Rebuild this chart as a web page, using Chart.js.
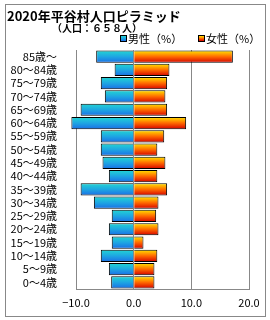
<!DOCTYPE html>
<html>
<head>
<meta charset="utf-8">
<script src="https://cdn.jsdelivr.net/npm/chart.js@4/dist/chart.umd.min.js"></script>
<style>
  body { margin: 0; background: #fff; font-family: "Noto Sans CJK JP", sans-serif; }
  .frame { position: absolute; left: 5px; top: 4px; width: 259px; height: 311px; border: 1px solid #888; }
  .title { position: absolute; left: 7px; top: 6px; font-size: 13px; font-weight: bold; color: #000; white-space: nowrap; }
  .sub { position: absolute; left: 52px; top: 20px; font-size: 10px; font-weight: bold; color: #000; white-space: nowrap; }
  canvas { position: absolute; left: 0; top: 0; }
  .legend { position: absolute; top: 31px; height: 14px; line-height: 14px; font-size: 11px; color: #000; white-space: nowrap; }
  .legend i { position: absolute; left: 0; top: 4px; width: 5px; height: 5px; border: 1px solid #000; }
  .legend span { position: absolute; left: 8px; top: 0; }
</style>
</head>
<body>
<div class="frame"></div>
<canvas id="pyramid" width="270" height="320"></canvas>
<div class="title">2020年平谷村人口ピラミッド</div>
<div class="sub">（人口：６５８人）</div>
<div id="legend"></div>
<script>
const ageGroups = ["85歳～", "80～84歳", "75～79歳", "70～74歳", "65～69歳", "60～64歳", "55～59歳", "50～54歳", "45～49歳",
  "40～44歳", "35～39歳", "30～34歳", "25～29歳", "20～24歳", "15～19歳", "10～14歳", "5～9歳", "0～4歳"];
const malePct = [6.5, 3.3, 5.7, 5.0, 9.2, 10.8, 5.7, 5.7, 5.4, 4.3, 9.2, 6.9, 3.8, 4.3, 3.8, 5.7, 4.3, 3.9];
const femalePct = [17.2, 6.2, 5.8, 5.5, 5.8, 9.1, 5.3, 4.1, 5.5, 4.1, 5.8, 4.3, 3.9, 4.3, 1.7, 4.1, 3.6, 3.6];
const seriesNames = ["男性（%）", "女性（%）"];
const xTicks = [-10, 0, 10, 20];

const barPct = 0.92;
const maleColors = ["#22d6d2", "#1ea6e2", "#1a6ee6"];
const femaleColors = ["#ffe600", "#ff6a00", "#d40000"];

const gradient = colors => c => {
  const y = c.chart.scales.y;
  if (c.type !== "data" || !y) return colors[1];
  const yc = y.getPixelForValue(c.dataIndex);
  const half = Math.abs(y.getPixelForValue(1) - y.getPixelForValue(0)) * barPct / 2;
  if (!isFinite(yc) || !isFinite(half) || half === 0) return colors[1];
  const g = c.chart.ctx.createLinearGradient(0, yc - half, 0, yc + half);
  colors.forEach((col, i) => g.addColorStop(i / (colors.length - 1), col));
  return g;
};

// legend as html so the boxes can carry the same gradients
const legend = document.getElementById("legend");
[[seriesNames[0], maleColors, 120], [seriesNames[1], femaleColors, 198]].forEach(([name, colors, left]) => {
  const d = document.createElement("div");
  d.className = "legend";
  d.style.left = left + "px";
  d.innerHTML = `<i style="background:linear-gradient(${colors.join(",")})"></i><span>${name}</span>`;
  legend.appendChild(d);
});

const font = { family: "'Noto Sans CJK JP', sans-serif", size: 11 };

new Chart(document.getElementById("pyramid"), {
  type: "bar",
  data: {
    labels: ageGroups,
    datasets: [
      { label: seriesNames[0], data: malePct.map(v => -v), backgroundColor: gradient(maleColors), borderColor: "#000", borderWidth: 1, clip: false },
      { label: seriesNames[1], data: femalePct, backgroundColor: gradient(femaleColors), borderColor: "#000", borderWidth: 1, clip: false }
    ]
  },
  options: {
    indexAxis: "y",
    responsive: false,
    animation: false,
    layout: { padding: { left: 6, right: 21, top: 50, bottom: 0 } },
    datasets: { bar: { barPercentage: barPct, categoryPercentage: 1 } },
    plugins: {
      tooltip: { enabled: false },
      legend: { display: false }
    },
    scales: {
      x: {
        stacked: true,
        min: -10, max: 20,
        afterBuildTicks: s => { s.ticks = xTicks.map(v => ({ value: v })); },
        afterFit: s => { s.height = 31; },
        grid: { color: "#888", drawTicks: false },
        border: { color: "#888" },
        ticks: { color: "#000", font, padding: 7, callback: v => (v < 0 ? "−" : "") + Math.abs(v).toFixed(1) }
      },
      y: {
        stacked: true,
        afterFit: s => { s.width = 70; },
        grid: { display: false },
        border: { color: "#888" },
        ticks: { color: "#000", font, padding: 11, autoSkip: false }
      }
    }
  }
});
</script>
</body>
</html>
